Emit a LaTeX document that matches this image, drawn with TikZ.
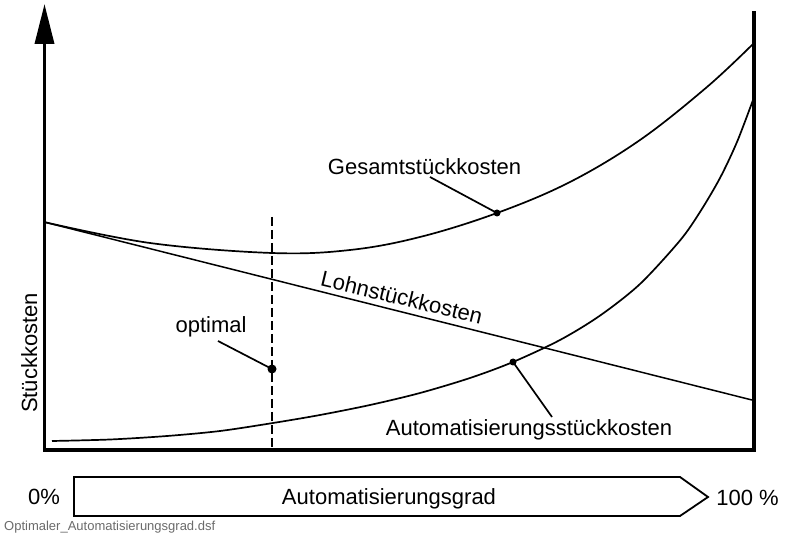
\documentclass[tikz,border=0pt]{standalone}
\usepackage{fontspec}
\setmainfont{Liberation Sans}
\usetikzlibrary{arrows.meta}
\tikzset{
  axisline/.style={line width=3.6pt, line join=miter},
  curve/.style={line width=1.7pt},
  leader/.style={line width=1.7pt},
  lbl/.style={font=\fontsize{22pt}{24pt}\selectfont, inner sep=0pt, anchor=base},
  dotmark/.style={circle, fill=black, inner sep=0pt, minimum size=#1},
}
\begin{document}
\begin{tikzpicture}[x=1pt,y=-1pt]
\useasboundingbox[fill=white] (0,0) rectangle (785,534);

% axes
\coordinate (ytip) at (44.5,4);
\coordinate (origin) at (44.5,450);
\coordinate (xend) at (754,450);
\coordinate (rtop) at (754,11);
\draw[axisline, {Triangle[width=19pt,length=40pt]}-] (ytip) -- (origin) -- (xend) -- (rtop);

% curves
\draw[curve] plot[smooth, tension=0.6] coordinates {(44,222) (150,243) (272,253) (350,250) (420,237) (497,213) (570,182) (640,140) (707,87) (753,44)};
\coordinate (lstart) at (44,222);
\coordinate (lend) at (752,400);
\draw[line width=1.5pt] (lstart) -- (lend);
\draw[curve] plot[smooth, tension=0.5] coordinates {(52,441) (110,439.5) (167,436) (220,431) (273,423) (320,415) (370,405) (420,393) (470,378) (513,362) (560,340) (600,315.6) (640,284) (680,240.5) (700,212) (720,178) (737,142) (753,100)};

% optimal line
\coordinate (dtop) at (272,217);
\coordinate (dbot) at (272,450);
\draw[line width=2pt, dash pattern=on 9pt off 4pt] (dtop) -- (dbot);

% dots
\node[dotmark=9pt] (odot) at (272,369) {};
\node[dotmark=7pt] (gdot) at (497,213) {};
\node[dotmark=7pt] (adot) at (513,362) {};

% labels
\node[lbl] (gl) at (424.5,175) {Gesamtstückkosten};
\node[lbl, rotate=-13.5] (ll) at (400,305) {Lohnstückkosten};
\node[lbl] (ol) at (211,333) {optimal};
\node[lbl] (al) at (529,436) {Automatisierungsstückkosten};
\node[lbl, rotate=90] (yl) at (37,353) {Stückkosten};

\coordinate (gls) at (430,177);
\coordinate (ols) at (218,341);
\coordinate (als) at (552,417);
\draw[leader] (gls) -- (gdot.center);
\draw[leader] (ols) -- (odot.center);
\draw[leader] (als) -- (adot.center);

% bottom arrow
\coordinate (b1) at (74,477);
\coordinate (b2) at (680,477);
\coordinate (b3) at (708,497);
\coordinate (b4) at (680,516);
\coordinate (b5) at (74,516);
\draw[line width=1.8pt, line join=miter] (b1) -- (b2) -- (b3) -- (b4) -- (b5) -- cycle;
\node[lbl] (xl) at (389,505) {Automatisierungsgrad};
\node[lbl] (p0) at (44,505) {0\%};
\node[lbl] (p100) at (747.5,506) {100 \%};

\node[font=\fontsize{13pt}{15pt}\selectfont, text=black!58, inner sep=0pt, anchor=base west] (fn) at (4,530) {Optimaler\_Automatisierungsgrad.dsf};
\end{tikzpicture}
\end{document}
